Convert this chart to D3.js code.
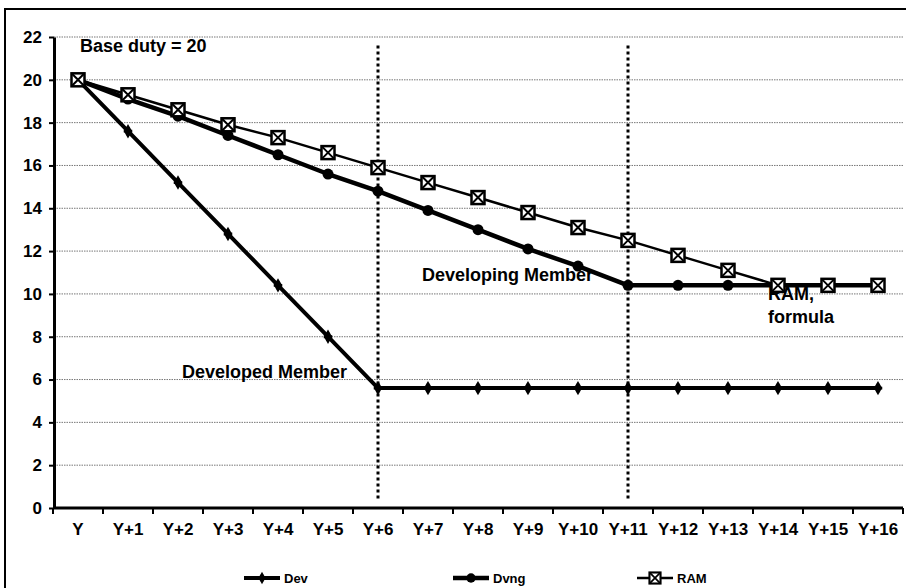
<!DOCTYPE html>
<html>
<head>
<meta charset="utf-8">
<script src="https://cdn.jsdelivr.net/npm/d3@7/dist/d3.min.js"></script>
<style>
  html, body { margin: 0; padding: 0; background: #fff; }
  svg { display: block; }
  text { font-family: "Liberation Sans", Arial, sans-serif; font-weight: bold; fill: #000; }
</style>
</head>
<body>
<svg id="chart" width="906" height="588"></svg>
<script>
// Category labels along the horizontal axis
const categories = ["Y","Y+1","Y+2","Y+3","Y+4","Y+5","Y+6","Y+7","Y+8","Y+9","Y+10","Y+11","Y+12","Y+13","Y+14","Y+15","Y+16"];

// Duty paths for each member type
const devValues  = [20, 17.6, 15.2, 12.8, 10.4, 8.0, 5.6, 5.6, 5.6, 5.6, 5.6, 5.6, 5.6, 5.6, 5.6, 5.6, 5.6];
const dvngValues = [20, 19.1, 18.3, 17.4, 16.5, 15.6, 14.8, 13.9, 13.0, 12.1, 11.3, 10.4, 10.4, 10.4, 10.4, 10.4, 10.4];
const ramValues  = [20, 19.3, 18.6, 17.9, 17.3, 16.6, 15.9, 15.2, 14.5, 13.8, 13.1, 12.5, 11.8, 11.1, 10.4, 10.4, 10.4];

// Vertical axis ticks
const yTicks = [0, 2, 4, 6, 8, 10, 12, 14, 16, 18, 20, 22];

// End-of-phase markers (implementation period ends)
const phaseEnds = ["Y+6", "Y+11"];

const svg = d3.select("#chart");

const x = d3.scaleBand().domain(categories).range([53, 903]).padding(0);
const cx = c => x(c) + x.bandwidth() / 2;
const y = d3.scaleLinear().domain([0, 22]).range([508, 37]);

// Outer chart frame
svg.append("rect")
  .attr("x", 5).attr("y", 9).attr("width", 940).attr("height", 620)
  .attr("fill", "none").attr("stroke", "#000").attr("stroke-width", 2);

// Horizontal gridlines
svg.append("g").selectAll("line")
  .data(yTicks.filter(v => v > 0))
  .join("line")
  .attr("x1", 54).attr("x2", 903)
  .attr("y1", d => y(d)).attr("y2", d => y(d))
  .attr("stroke", "#777").attr("stroke-width", 1)
  .attr("stroke-dasharray", "1.5,1");

// Phase-end dotted verticals
svg.append("g").selectAll("line")
  .data(phaseEnds)
  .join("line")
  .attr("x1", d => cx(d)).attr("x2", d => cx(d))
  .attr("y1", y(21.6)).attr("y2", y(0.4))
  .attr("stroke", "#000").attr("stroke-width", 3)
  .attr("stroke-dasharray", "3,3");

// Annotations
const notes = [
  { t: "Base duty = 20", x: 80, y: 52 },
  { t: "Developed Member", x: 182, y: 378 },
  { t: "Developing Member", x: 422, y: 281 },
  { t: "RAM,", x: 768, y: 300 },
  { t: "formula", x: 768, y: 323 }
];
svg.append("g").selectAll("text")
  .data(notes)
  .join("text")
  .attr("x", d => d.x).attr("y", d => d.y)
  .attr("font-size", 18)
  .text(d => d.t);

// Axes
const yAxis = svg.append("g")
  .attr("transform", "translate(54,0)")
  .call(d3.axisLeft(y).tickValues(yTicks).tickSize(5).tickSizeOuter(0).tickPadding(7));
yAxis.select(".domain").attr("stroke-width", 3);
yAxis.selectAll(".tick line").attr("stroke-width", 2);
yAxis.selectAll(".tick text").attr("font-size", 17).attr("font-family", "Liberation Sans, Arial, sans-serif");

const xAxis = svg.append("g")
  .attr("transform", `translate(0,${y(0)})`)
  .call(d3.axisBottom(x).tickSize(0).tickPadding(15).tickSizeOuter(0));
xAxis.select(".domain").attr("stroke-width", 3).attr("d", `M53,0H903`);
xAxis.selectAll(".tick text").attr("font-size", 17).attr("font-family", "Liberation Sans, Arial, sans-serif");

// Category boundary ticks
svg.append("g").selectAll("line")
  .data(categories.map(c => x(c)).concat([x.range()[1]]))
  .join("line")
  .attr("x1", d => d).attr("x2", d => d)
  .attr("y1", y(0)).attr("y2", y(0) + 6)
  .attr("stroke", "#000").attr("stroke-width", 2);

// Series lines
const series = [
  { name: "RAM", values: ramValues, width: 2.5 },
  { name: "Dvng", values: dvngValues, width: 4.5 },
  { name: "Dev", values: devValues, width: 4 }
];
const line = d3.line().x((d, i) => cx(categories[i])).y(d => y(d));
svg.append("g").selectAll("path")
  .data(series)
  .join("path")
  .attr("d", d => line(d.values))
  .attr("fill", "none")
  .attr("stroke", "#000")
  .attr("stroke-width", d => d.width)
  .attr("stroke-linejoin", "round");

// Marker drawers
function devMarker(g) {
  g.append("path").attr("d", d3.symbol(d3.symbolDiamond, 60)())
    .attr("fill", "#000");
  g.append("path").attr("d", d3.symbol(d3.symbolCross, 40)())
    .attr("fill", "#000");
}
function dvngMarker(g) {
  g.append("circle").attr("r", 5.5).attr("fill", "#000");
}
function ramMarker(g) {
  const s = 6.5;
  g.append("rect").attr("x", -s).attr("y", -s).attr("width", 2 * s).attr("height", 2 * s)
    .attr("fill", "#fff").attr("stroke", "#000").attr("stroke-width", 2.5);
  g.append("path").attr("d", `M${-s},${-s}L${s},${s}M${s},${-s}L${-s},${s}`)
    .attr("stroke", "#000").attr("stroke-width", 2);
}

function drawMarkers(values, drawer) {
  svg.append("g").selectAll("g")
    .data(values)
    .join("g")
    .attr("transform", (d, i) => `translate(${cx(categories[i])},${y(d)})`)
    .each(function () { drawer(d3.select(this)); });
}
drawMarkers(devValues, devMarker);
drawMarkers(dvngValues, dvngMarker);
drawMarkers(ramValues, ramMarker);

// Legend
const legend = [
  { name: "Dev", x: 244, width: 4, drawer: devMarker },
  { name: "Dvng", x: 453, width: 4.5, drawer: dvngMarker },
  { name: "RAM", x: 637, width: 2.5, drawer: ramMarker }
];
const lg = svg.append("g").selectAll("g")
  .data(legend)
  .join("g")
  .attr("transform", d => `translate(${d.x},578)`);
lg.append("line").attr("x1", 0).attr("x2", 36).attr("y1", 0).attr("y2", 0)
  .attr("stroke", "#000").attr("stroke-width", d => d.width);
lg.each(function (d) {
  const m = d3.select(this).append("g").attr("transform", "translate(18,0) scale(0.85)");
  d.drawer(m);
});
lg.append("text").attr("x", 40).attr("y", 5).attr("font-size", 13).text(d => d.name);
</script>
</body>
</html>
